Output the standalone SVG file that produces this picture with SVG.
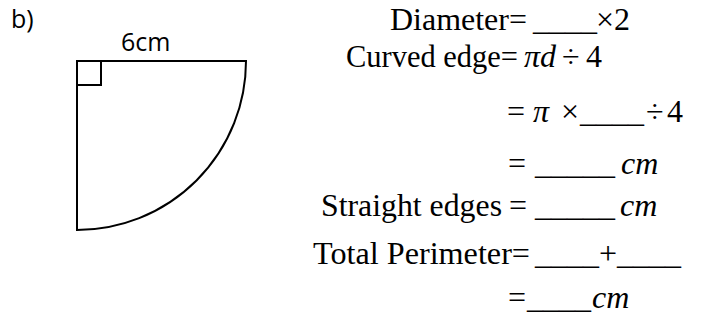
<svg xmlns="http://www.w3.org/2000/svg" width="702" height="324" viewBox="0 0 702 324">
<style>
.lbl{font-family:"Open Sans","Liberation Sans",sans-serif;font-size:25px;fill:#000}
.m{font-family:"Liberation Serif","Times New Roman",serif;font-size:32px;fill:#000}
.i{font-style:italic}
.ln{fill:none;stroke:#000;stroke-width:2}
</style>
<rect width="702" height="324" fill="#fff"/>
<g id="figure">
<text class="lbl" x="11" y="28">b)</text>
<text class="lbl" x="121" y="51">6cm</text>
<path class="ln" d="M77,230 L77,61 L246,61 A169,169 0 0 1 77,230 Z"/>
<rect class="ln" x="77" y="61" width="24" height="24"/>
</g>
<g id="working">
<text class="m" y="30"><tspan x="390" textLength="137" lengthAdjust="spacingAndGlyphs">Diameter=</tspan><tspan x="533">____</tspan><tspan x="596">×2</tspan></text>
<text class="m" y="67"><tspan x="346" textLength="172" lengthAdjust="spacingAndGlyphs">Curved edge=</tspan><tspan class="i" x="524">πd</tspan><tspan x="562">÷</tspan><tspan x="586">4</tspan></text>
<text class="m" y="122"><tspan x="507">=</tspan><tspan class="i" x="533">π</tspan><tspan x="561">×</tspan><tspan x="580">____</tspan><tspan x="646">÷</tspan><tspan x="667">4</tspan></text>
<text class="m" y="174"><tspan x="508">=</tspan><tspan x="535">_____</tspan><tspan class="i" x="621">cm</tspan></text>
<text class="m" y="216"><tspan x="321" textLength="181" lengthAdjust="spacingAndGlyphs">Straight edges</tspan><tspan x="509">=</tspan><tspan x="535">_____</tspan><tspan class="i" x="620">cm</tspan></text>
<text class="m" y="264"><tspan x="313" textLength="217" lengthAdjust="spacingAndGlyphs">Total Perimeter=</tspan><tspan x="535">____+____</tspan></text>
<text class="m" y="308"><tspan x="508">=</tspan><tspan x="527">____</tspan><tspan class="i" x="592">cm</tspan></text>
</g>
</svg>
